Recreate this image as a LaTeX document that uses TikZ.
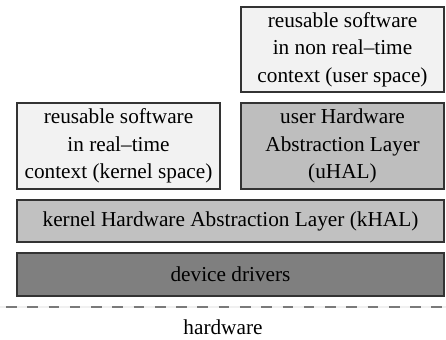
\documentclass[tikz,border=0pt]{standalone}
\usepackage{fontspec}
\setmainfont{Liberation Serif}
\newcommand{\px}{0.47pt}
\newcommand{\layerwidth}{427}
\newcommand{\halfwidth}{203}
\definecolor{SWhell}{HTML}{F2F2F2}
\definecolor{HALgrau}{HTML}{BEBEBE}
\definecolor{DRVgrau}{HTML}{7F7F7F}
\definecolor{Rand}{HTML}{333333}
\definecolor{Strich}{HTML}{7A7A7A}
\tikzset{
  layer/.style={draw=Rand, line width=0.55pt, inner sep=0pt, align=center,
    font=\fontsize{10}{13}\selectfont},
  halfbox/.style={layer, minimum width=\halfwidth*\px, minimum height=86*\px},
  fullbox/.style={layer, minimum width=\layerwidth*\px, minimum height=43*\px}
}

\begin{document}
\begin{tikzpicture}[x=\px,y=\px]
  \useasboundingbox (0,0) rectangle (446,340);

  % software on top
  \node[halfbox, fill=SWhell, minimum height=85*\px] (userapp) at (342.5,290.5)
    {reusable software\\in non real--time\\context (user space)};
  \node[halfbox, fill=SWhell] (kernapp) at (118.5,194)
    {reusable software\\in real--time\\context (kernel space)};
  \node[halfbox, fill=HALgrau] (uhal) at (342.5,194)
    {user Hardware\\Abstraction Layer\\(uHAL)};

  % the layers
  \node[fullbox, fill=HALgrau!95!white, minimum height=42*\px] (khal) at (230.5,119)
    {kernel Hardware Abstraction Layer (kHAL)};
  \node[fullbox, fill=DRVgrau] (drivers) at (230.5,65.5) {device drivers};

  % border to the hardware
  \coordinate (hwleft) at (0,33.3);
  \coordinate (hwright) at (446,33.3);
  \draw[line width=0.95pt, color=black!6] (hwleft) -- (hwright);
  \draw[line width=0.95pt, color=Strich, dash pattern=on 5pt off 5pt,
    dash phase=7.2pt] (hwleft) -- (hwright);
  \node[font=\fontsize{10}{13}\selectfont] (hw) at (223,13) {hardware};

\end{tikzpicture}
\end{document}
